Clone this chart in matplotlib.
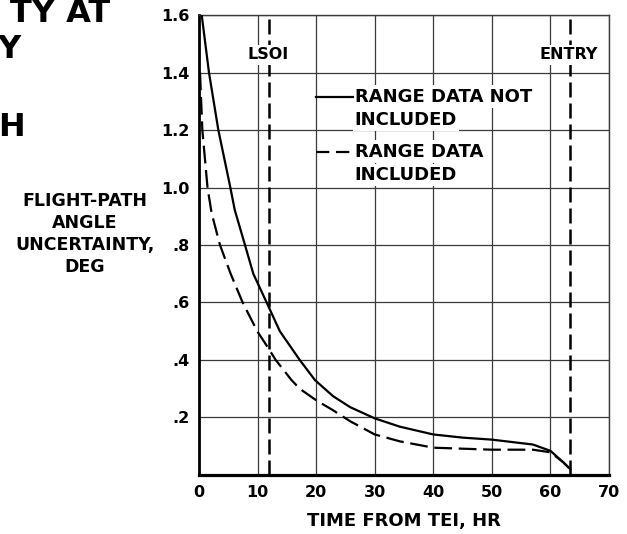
import matplotlib
matplotlib.use("Agg")
import matplotlib.pyplot as plt
from matplotlib.lines import Line2D

plt.rcParams['font.family'] = ['DejaVu Sans']
plt.rcParams['font.weight'] = 'bold'

# Time from TEI (hr) and flight-path angle uncertainty (deg)
t_no_range = [0.46, 1.7, 3.3, 5.35, 6.1, 7.85, 9.27, 11.55, 13.8, 17.2, 19.8, 22.9, 25.8, 30,
              34.3, 40, 45, 50, 57, 60, 62.2, 63.4]
u_no_range = [1.6, 1.4, 1.2, 1.0, 0.922, 0.8, 0.7, 0.6, 0.5, 0.4, 0.33, 0.274, 0.236, 0.197,
              0.168, 0.141, 0.13, 0.123, 0.106, 0.084, 0.044, 0.02]

t_range = [0.17, 0.57, 1.45, 2.16, 3.58, 5.4, 7.45, 9.95, 11.55, 13.1, 15.8, 17.2, 20, 22.9,
           25.8, 30, 34.3, 40, 50, 57, 60, 62.2, 63.4]
u_range = [1.4, 1.2, 1.0, 0.91, 0.8, 0.7, 0.6, 0.5, 0.45, 0.4, 0.33, 0.30, 0.26, 0.225,
           0.187, 0.141, 0.117, 0.095, 0.088, 0.088, 0.079, 0.044, 0.02]

# Event markers
events = ['LSOI', 'ENTRY']
event_times = [12, 63.4]

x_ticks = [0, 10, 20, 30, 40, 50, 60, 70]
x_labels = ['0', '10', '20', '30', '40', '50', '60', '70']
y_ticks = [0, 0.2, 0.4, 0.6, 0.8, 1.0, 1.2, 1.4, 1.6]
y_labels = ['', '.2', '.4', '.6', '.8', '1.0', '1.2', '1.4', '1.6']

legend_labels = ['RANGE DATA NOT\nINCLUDED', 'RANGE DATA\nINCLUDED']

fig = plt.figure(figsize=(6.27, 5.34), dpi=100)
ax = fig.add_axes([0.3174, 0.1105, 0.6539, 0.8614])
ax.set_xlim(0, 70)
ax.set_ylim(0, 1.6)

ax.set_xticks(x_ticks)
ax.set_xticklabels(x_labels)
ax.set_yticks(y_ticks)
ax.set_yticklabels(y_labels)
ax.tick_params(length=0, labelsize=11.5, pad=7)
for lab in ax.get_xticklabels() + ax.get_yticklabels():
    lab.set_fontweight('bold')

ax.grid(True, color='#3a3a3a', lw=0.9)
ax.set_axisbelow(True)

ax.spines['left'].set_linewidth(2.0)
ax.spines['bottom'].set_linewidth(2.3)
for s in ('top', 'right'):
    ax.spines[s].set_linewidth(1.0)
    ax.spines[s].set_color('#3a3a3a')

# Curves
ax.plot(t_no_range, u_no_range, color='black', lw=1.6, zorder=4)
ax.plot(t_range, u_range, color='black', lw=1.6, dashes=(8, 3), zorder=4)

# Event lines
for tt in event_times:
    ax.axvline(tt, color='black', lw=1.8, dashes=(6, 2.4), zorder=3)

box = dict(facecolor='white', edgecolor='none', pad=1.5)
ax.text(11.8, 1.461, events[0], ha='center', va='center', fontsize=11.5,
        fontweight='bold', bbox=box, zorder=5)
ax.text(63.1, 1.461, events[1], ha='center', va='center', fontsize=11.5,
        fontweight='bold', bbox=box, zorder=5)

# Legend: sample lines plus one white-backed text per row
ax.add_line(Line2D([20.0, 26.3], [1.316, 1.316], color='black', lw=1.6, zorder=6))
ax.add_line(Line2D([20.0, 26.3], [1.125, 1.125], color='black', lw=1.6,
                   dashes=(6, 3), zorder=6))
row_y = [[1.316, 1.236], [1.125, 1.043]]
for label, ys in zip(legend_labels, row_y):
    for line, yy in zip(label.split('\n'), ys):
        ax.text(26.6, yy, line, ha='left', va='center', fontsize=13,
                fontweight='bold',
                bbox=dict(facecolor='white', edgecolor='none', pad=1.5), zorder=5)

ax.set_xlabel('TIME FROM TEI, HR', fontsize=13, fontweight='bold', labelpad=9)

fig.text(85 / 627, 1 - 234 / 534, 'FLIGHT-PATH\nANGLE\nUNCERTAINTY,\nDEG',
         ha='center', va='center', fontsize=12.5, fontweight='bold', linespacing=1.3)

# Title fragments at the left edge
fig.text(110 / 627, 1 - 14 / 534, 'TY AT', ha='right', va='center', fontsize=23,
         fontweight='bold')
fig.text(21 / 627, 1 - 50 / 534, 'Y', ha='right', va='center', fontsize=23,
         fontweight='bold')
fig.text(25 / 627, 1 - 128 / 534, 'H', ha='right', va='center', fontsize=23,
         fontweight='bold')

fig.savefig('out.png', dpi=100)
